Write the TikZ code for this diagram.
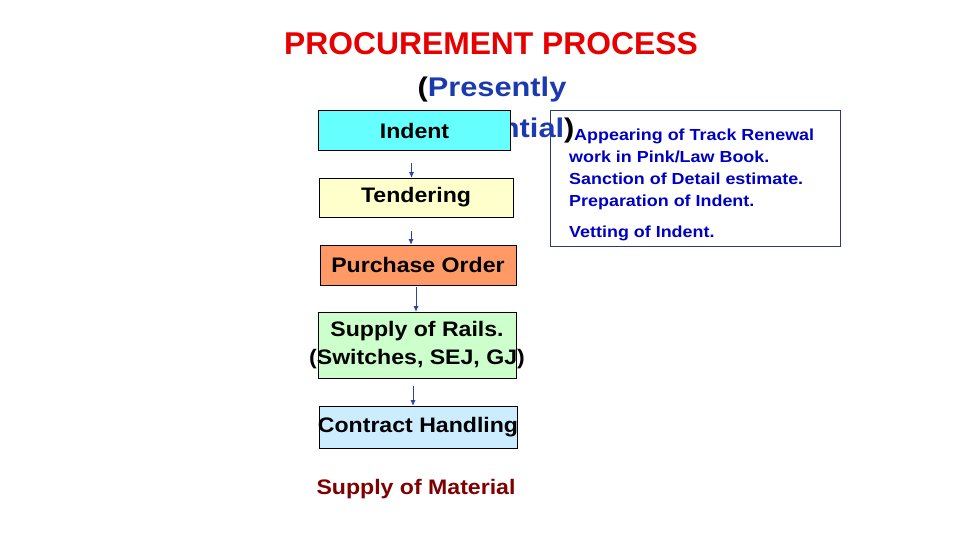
\documentclass[tikz,border=0pt]{standalone}
\usepackage{fontspec}
\setmainfont{Liberation Sans}
\usetikzlibrary{arrows.meta}

\definecolor{titlered}{RGB}{230,0,0}
\definecolor{subblue}{RGB}{28,58,175}
\definecolor{noteblue}{RGB}{0,0,195}
\definecolor{noteframe}{RGB}{40,60,110}
\definecolor{flowblue}{RGB}{40,70,165}
\definecolor{indentfill}{RGB}{102,255,255}
\definecolor{tenderfill}{RGB}{255,255,204}
\definecolor{orderfill}{RGB}{255,153,102}
\definecolor{railfill}{RGB}{204,255,204}
\definecolor{contractfill}{RGB}{204,236,255}
\definecolor{materialred}{RGB}{128,0,0}

\begin{document}
\begin{tikzpicture}[x=1pt, y=-1pt,
    stage/.style={draw=black, line width=0.6pt, inner sep=0pt, font=\stagefont},
    flow/.style={draw=flowblue, line width=0.7pt, -{Latex[length=5.5pt,width=5pt]}}]
    \newcommand\stagefont{\bfseries\fontsize{21}{28}\selectfont\addfontfeature{FakeStretch=1.1}}
    \useasboundingbox (0,0) rectangle (960,540);
    \fill[white] (0,0) rectangle (960,540);

    % Title
    \node[anchor=base, text=titlered, font=\bfseries\fontsize{31.5}{36}\selectfont\addfontfeature{FakeStretch=1.01}] (title) at (491,55) {PROCUREMENT PROCESS};

    % Note box on the right
    \node[draw=noteframe, line width=0.6pt, fill=white, anchor=north west,
        minimum width=290pt, minimum height=136pt, inner sep=0pt] (note) at (550,110) {};
    \node[anchor=north west, align=left, inner sep=0pt, text=noteblue,
        font=\bfseries\fontsize{16}{22}\selectfont\addfontfeature{FakeStretch=1.12}] (notetext) at (569,129)
        {\hspace{5pt}Appearing of Track Renewal\\work in Pink/Law Book.\\Sanction of Detail estimate.\\Preparation of Indent.\\[9pt]Vetting of Indent.};

    % Subtitle (partly covered by the Indent box)
    \node[anchor=base, font=\bfseries\fontsize{27}{34}\selectfont\addfontfeature{FakeStretch=1.14}] (sub1) at (492,97)
        {(\textcolor{subblue}{Presently}};
    \node[anchor=base east, font=\bfseries\fontsize{27}{34}\selectfont\addfontfeature{FakeStretch=1.14}] (sub2) at (578,138)
        {\textcolor{subblue}{Essential})};

    % Process stages
    \node[stage, fill=indentfill, minimum width=192pt, minimum height=40pt] (indent) at (414.5,130.5) {Indent};
    \node[stage, fill=tenderfill, minimum width=194pt, minimum height=39pt] (tender) at (416,197.5) {Tendering};
    \node[stage, fill=orderfill, minimum width=196pt, minimum height=40pt] (order) at (418,265) {Purchase Order};
    \node[stage, fill=railfill, minimum width=198pt, minimum height=66pt, align=center] (rails) at (417,345)
        {\makebox[0pt]{Supply of Rails.}\\\makebox[0pt]{(Switches, SEJ, GJ)}};
    \node[stage, fill=contractfill, minimum width=198pt, minimum height=42pt] (contract) at (418,427)
        {\makebox[0pt]{Contract Handling}};
    \node[font=\stagefont, text=materialred] (material) at (416,489) {Supply of Material};

    % Arrows between stages
    \draw[flow] ([xshift=-3pt,yshift=-12pt]indent.south) -- ([xshift=-3pt]indent.south |- tender.north);
    \draw[flow] ([xshift=-5pt,yshift=-14pt]tender.south) -- ([xshift=-5pt]tender.south |- order.north);
    \draw[flow] ([xshift=-2pt,yshift=-2pt]order.south) -- ([xshift=-2pt]order.south |- rails.north);
    \draw[flow] ([xshift=-4pt,yshift=-8pt]rails.south) -- ([xshift=-4pt]rails.south |- contract.north);
\end{tikzpicture}
\end{document}
